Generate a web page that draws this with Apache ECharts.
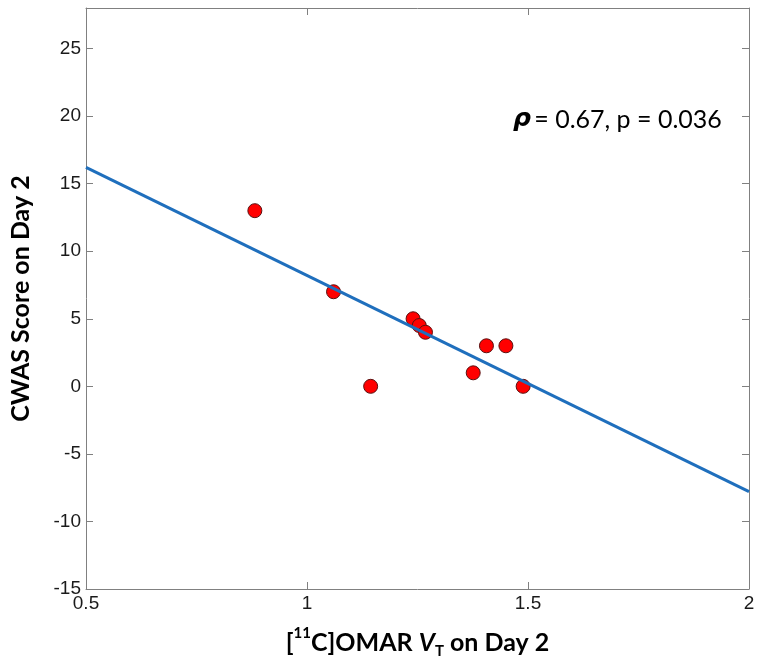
<!DOCTYPE html>
<html>
<head>
<meta charset="utf-8">
<script src="https://cdn.jsdelivr.net/npm/echarts@6/dist/echarts.min.js"></script>
<style>html,body{margin:0;padding:0;background:#fff;}#c{width:762px;height:664px;}</style>
</head>
<body>
<div id="c"></div>
<script>
// Data
var omarVT = [0.882, 1.060, 1.144, 1.240, 1.254, 1.268, 1.376, 1.406, 1.450, 1.489];
var cwasScore = [13, 7, 0, 5, 4.5, 4, 1, 3, 3, 0];
var fitX = [0.5, 2];
var fitY = [16.2, -7.8];
var xTicks = [0.5, 1, 1.5, 2];
var yTicks = [-15, -10, -5, 0, 5, 10, 15, 20, 25];
var annotation = '= 0.67, p = 0.036';

var scatterData = omarVT.map(function (x, i) { return [x, cwasScore[i]]; });
var fitData = fitX.map(function (x, i) { return [x, fitY[i]]; });

var axisColor = '#808080';
var labelFont = { fontFamily: 'Liberation Sans', fontSize: 19, color: '#1a1a1a' };
var titleFont = 'Lato';

var chart = echarts.init(document.getElementById('c'), null, { renderer: 'canvas' });
chart.setOption({
  backgroundColor: '#ffffff',
  animation: false,
  grid: { left: 82, right: 13, top: 8, bottom: 70, containLabel: false },
  xAxis: [{
    type: 'value', min: 0.5, max: 2, interval: 0.5,
    position: 'bottom',
    axisLine: { show: true, onZero: false, lineStyle: { color: axisColor, width: 1 } },
    axisTick: { show: true, inside: true, length: 7, lineStyle: { color: axisColor } },
    splitLine: { show: false },
    axisLabel: Object.assign({ margin: 5, formatter: function (v) { return xTicks.indexOf(v) >= 0 ? String(v) : ''; } }, labelFont),
    name: '{b|[}{sup|11}{b|C]OMAR }{i|V}{sub|T}{b| on Day 2}',
    nameLocation: 'middle', nameGap: 37,
    nameTextStyle: {
      rich: {
        b: { fontFamily: titleFont, fontWeight: 'bold', fontSize: 25, color: '#000', verticalAlign: 'middle', lineHeight: 33 },
        i: { fontFamily: titleFont, fontWeight: 'bold', fontStyle: 'italic', fontSize: 25, color: '#000', verticalAlign: 'middle', lineHeight: 33 },
        sup: { fontFamily: titleFont, fontWeight: 'bold', fontSize: 15, color: '#000', verticalAlign: 'top', lineHeight: 20 },
        sub: { fontFamily: titleFont, fontWeight: 'bold', fontSize: 15, color: '#000', verticalAlign: 'bottom', lineHeight: 15 }
      }
    }
  }, {
    type: 'value', min: 0.5, max: 2, interval: 0.5,
    position: 'top',
    axisLine: { show: true, onZero: false, lineStyle: { color: axisColor, width: 1 } },
    axisTick: { show: true, inside: true, length: 7, lineStyle: { color: axisColor } },
    axisLabel: { show: false }, splitLine: { show: false }
  }],
  yAxis: [{
    type: 'value', min: -15, max: 28, interval: 5,
    position: 'left',
    axisLine: { show: true, onZero: false, lineStyle: { color: axisColor, width: 1 } },
    axisTick: { show: true, inside: true, length: 7, lineStyle: { color: axisColor } },
    splitLine: { show: false },
    axisLabel: Object.assign({ margin: 5, formatter: function (v) { return yTicks.indexOf(v) >= 0 ? String(v) : ''; } }, labelFont),
    name: 'CWAS Score on Day 2',
    nameLocation: 'middle', nameGap: 53,
    nameTextStyle: { fontFamily: titleFont, fontWeight: 'bold', fontSize: 25, color: '#000' }
  }, {
    type: 'value', min: -15, max: 28, interval: 5,
    position: 'right',
    axisLine: { show: true, onZero: false, lineStyle: { color: axisColor, width: 1 } },
    axisTick: { show: true, inside: true, length: 7, lineStyle: { color: axisColor } },
    axisLabel: { show: false }, splitLine: { show: false }
  }],
  graphic: [{
    type: 'text', left: 513, top: 107,
    style: {
      text: '{r|ρ} {t|' + annotation + '}',
      rich: {
        r: { fontFamily: 'DejaVu Sans', fontWeight: 'bold', fontStyle: 'italic', fontSize: 25, fill: '#000' },
        t: { fontFamily: titleFont, fontSize: 25, fill: '#000' }
      }
    }
  }],
  series: [{
    type: 'scatter', xAxisIndex: 0, yAxisIndex: 0,
    data: scatterData, symbol: 'circle', symbolSize: 14,
    itemStyle: { color: '#ff0000', borderColor: '#5a1010', borderWidth: 1, opacity: 1 },
    z: 2
  }, {
    type: 'line', xAxisIndex: 0, yAxisIndex: 0,
    data: fitData, symbol: 'none',
    lineStyle: { color: '#1f6fbd', width: 3 },
    z: 3
  }]
});
</script>
</body>
</html>
